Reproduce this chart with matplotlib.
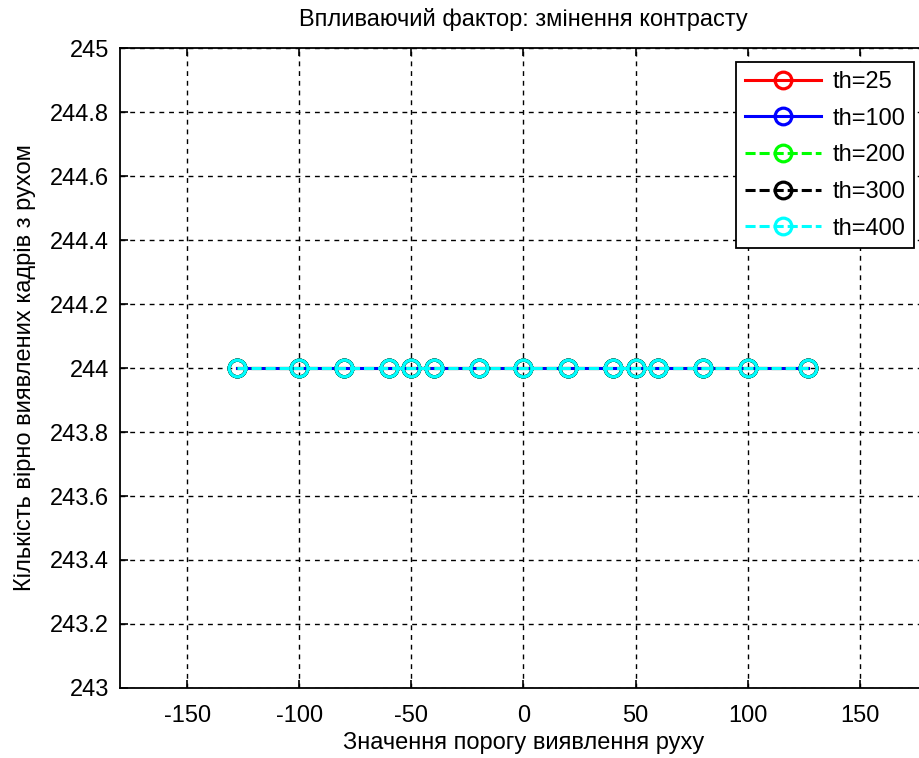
import numpy as np
import matplotlib.pyplot as plt

plt.rcParams['font.family'] = ['Liberation Sans', 'DejaVu Sans']
plt.rcParams['axes.unicode_minus'] = False

# Порогові значення та кількість кадрів для кожного th
thresholds = [-128, -100, -80, -60, -50, -40, -20, 0, 20, 40, 50, 60, 80, 100, 127]
frames_th25 = [244] * 15
frames_th100 = [244] * 15
frames_th200 = [244] * 15
frames_th300 = [244] * 15
frames_th400 = [244] * 15

series = [
    ('th=25', frames_th25, '#ff0000', '-'),
    ('th=100', frames_th100, '#0000ff', '-'),
    ('th=200', frames_th200, '#00ff00', '--'),
    ('th=300', frames_th300, '#000000', '--'),
    ('th=400', frames_th400, '#00ffff', '--'),
]

fig = plt.figure(figsize=(9.2, 7.58), dpi=100)
ax = fig.add_axes([120 / 920, 70 / 758, 807 / 920, 640 / 758])

for name, vals, col, ls in series:
    ax.plot(thresholds, vals, color=col, linestyle=ls, linewidth=2.2,
            dashes=(3.3, 1.3) if ls == '--' else (None, None),
            marker='o', markersize=12, markerfacecolor='none',
            markeredgewidth=2.3, label=name)

ax.set_xlim(-180, 180)
ax.set_ylim(243, 245)
ax.set_xticks([-150, -100, -50, 0, 50, 100, 150])
ax.set_yticks(np.arange(243, 245.01, 0.2))
ax.set_yticklabels(['243', '243.2', '243.4', '243.6', '243.8', '244',
                    '244.2', '244.4', '244.6', '244.8', '245'])
ax.grid(True, color='k', linestyle=(0, (3.5, 3.5)), linewidth=1)
ax.tick_params(direction='in', top=True, right=True, length=6, width=1.2,
               labelsize=17, pad=8)
ax.tick_params(axis='x', pad=12)
for s in ax.spines.values():
    s.set_linewidth(1.3)

ax.set_title('Впливаючий фактор: змінення контрасту', fontsize=17, pad=16)
ax.set_xlabel('Значення порогу виявлення руху', fontsize=17, labelpad=4)
ax.set_ylabel('Кількість вірно виявлених кадрів з рухом', fontsize=17,
              labelpad=10)

leg = ax.legend(loc='upper left', bbox_to_anchor=(736 / 920, 1 - 62 / 758),
                bbox_transform=fig.transFigure, fontsize=17, fancybox=False,
                framealpha=1, edgecolor='k', borderaxespad=0,
                handlelength=3.2, handletextpad=0.5, labelspacing=0.62,
                borderpad=0.38)
leg.get_frame().set_linewidth(1.3)

fig.savefig('out.png', dpi=100)
